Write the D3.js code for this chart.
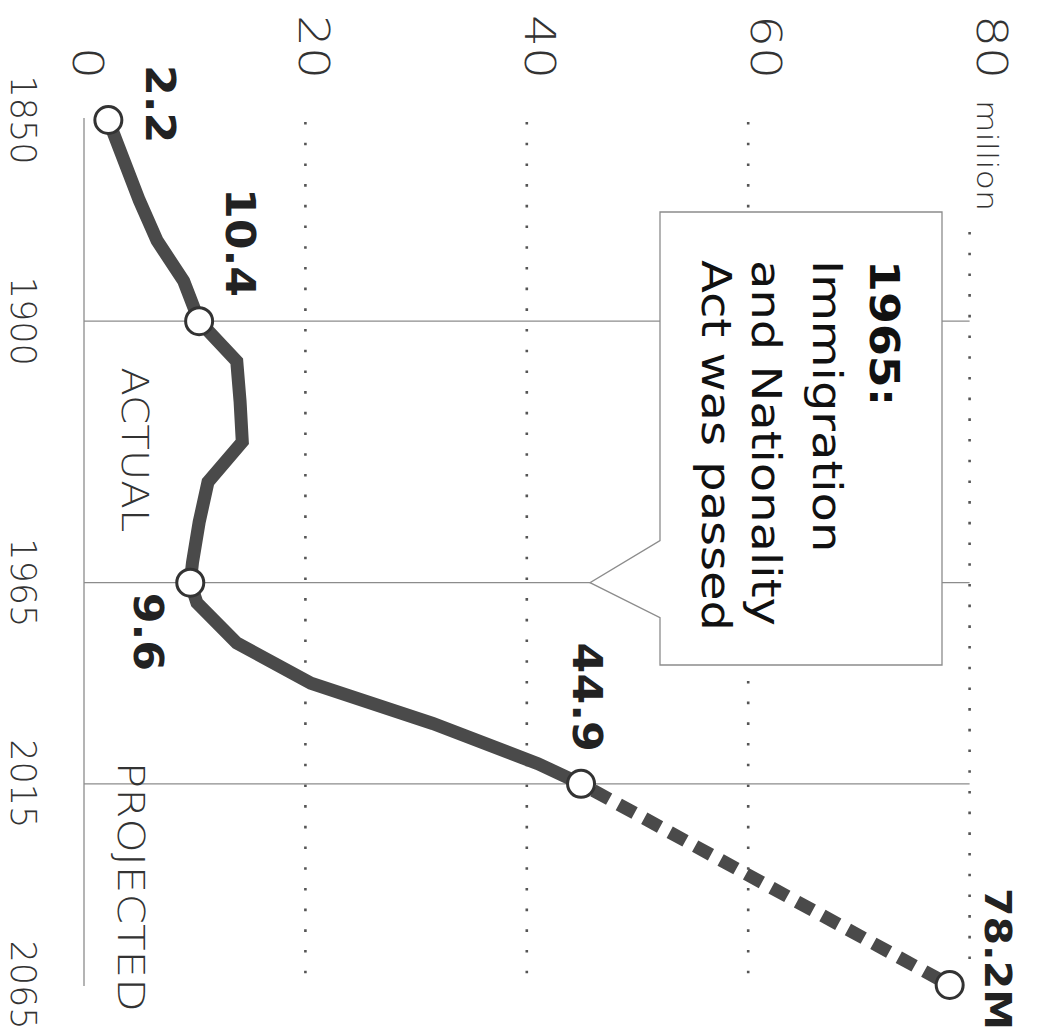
<!DOCTYPE html>
<html>
<head>
<meta charset="utf-8">
<script src="https://cdn.jsdelivr.net/npm/d3@7"></script>
<style>
  html, body { margin: 0; padding: 0; background: #fff; }
  svg { display: block; }
</style>
</head>
<body>
<svg id="chart" width="1045" height="1035"></svg>
<script>
// Foreign-born population of the U.S., millions
const actualYears  = [1850, 1860, 1870, 1880, 1890, 1900, 1910, 1920, 1930, 1940, 1950, 1960, 1965, 1970, 1980, 1990, 2000, 2010, 2015];
const actualValues = [2.2, 3.6, 5.0, 6.6, 9.0, 10.4, 13.8, 14.1, 14.3, 11.2, 10.4, 9.8, 9.6, 10.2, 13.8, 20.5, 31.5, 41.0, 44.9];
const projectedYears  = [2015, 2065];
const projectedValues = [44.9, 78.2];

const markedYears  = [1850, 1900, 1965, 2015, 2065];
const markedValues = [2.2, 10.4, 9.6, 44.9, 78.2];
const markedTexts  = ["2.2", "10.4", "9.6", "44.9", "78.2M"];

const yearTicks  = [1850, 1900, 1965, 2015, 2065];
const gridYears  = [1900, 1965, 2015];
const valueTicks = [0, 20, 40, 60, 80];
const valueTickLabels = ["0", "20", "40", "60", "80"];
const unitLabel = "million";

const phaseLabels = ["ACTUAL", "PROJECTED"];
const noteYear = 1965;
const noteLines = ["1965:", "Immigration", "and Nationality", "Act was passed"];

// ---- layout (the chart is laid out sideways: time runs down the page) ----
const FONT = "'DejaVu Sans', 'Liberation Sans', sans-serif";
const W = 1035, H = 1045;            // unrotated frame: W along time, H along value

const svg = d3.select("#chart");
const g = svg.append("g").attr("transform", `translate(${H},0) rotate(90)`);

const x = d3.scaleLinear().domain([1850, 2065]).range([120, 985]);
const y = d3.scaleLinear().domain([0, 80]).range([961, 75.4]);
// baseline position of the value tick labels
const yTickText = d3.scaleLinear().domain([0, 80]).range([972, 68]);

function label(parent, u, v, str, o) {
  return parent.append("text")
    .attr("transform", `translate(${u},${v}) scale(${o.sx || 1},1)`)
    .attr("text-anchor", o.anchor || "start")
    .attr("font-family", FONT)
    .attr("font-size", o.size)
    .attr("font-weight", o.weight || "normal")
    .attr("fill", o.fill || "#222")
    .text(str);
}

// value gridlines (dotted)
const gridStart = { 0: 118, 20: 122, 40: 122, 60: 122, 80: 232 };
g.append("g").selectAll("line")
  .data(valueTicks.filter(d => d > 0))
  .join("line")
  .attr("x1", d => gridStart[d]).attr("x2", 976)
  .attr("y1", d => y(d)).attr("y2", d => y(d))
  .attr("stroke", "#555")
  .attr("stroke-width", 2.6)
  .attr("stroke-dasharray", "2.6 18.1");

// zero baseline
g.append("line")
  .attr("x1", 118).attr("x2", 986)
  .attr("y1", y(0)).attr("y2", y(0))
  .attr("stroke", "#8c8c8c").attr("stroke-width", 1.3);

// year gridlines
g.append("g").selectAll("line")
  .data(gridYears)
  .join("line")
  .attr("x1", d => x(d)).attr("x2", d => x(d))
  .attr("y1", y(0)).attr("y2", y(80))
  .attr("stroke", "#8c8c8c").attr("stroke-width", 1.3);

// value tick labels along the top
valueTicks.forEach((t, i) => {
  label(g, 79, yTickText(t), valueTickLabels[i], { size: 42, weight: 200, anchor: "end", sx: 1.2, fill: "#333" });
});
label(g, 100, yTickText(80), unitLabel, { size: 29, weight: 200, sx: 1.15, fill: "#333" });

// year labels along the side
yearTicks.forEach(t => {
  label(g, x(t), 1034, String(t), { size: 35, weight: 200, anchor: "middle", sx: 1.0, fill: "#333" });
});

// callout box for the 1965 act
const tipU = x(noteYear);
const box = { u0: 212, u1: 665, v0: 103, v1: 385, tipV: 455 };
g.append("path")
  .attr("d", `M${box.u0},${box.v0} H${box.u1} V${box.v1} H${tipU + 35} L${tipU},${box.tipV} L${tipU - 42},${box.v1} H${box.u0} Z`)
  .attr("fill", "#fff")
  .attr("stroke", "#8c8c8c")
  .attr("stroke-width", 1.3);
const noteBaselines = [175, 232, 293, 343];
noteLines.forEach((s, i) => {
  label(g, 260, noteBaselines[i], s, {
    size: 41, weight: i === 0 ? "bold" : "normal", sx: i === 0 ? 1.12 : 1.17, fill: "#111"
  });
});

// phase labels
label(g, x(1900) + 46, 923, phaseLabels[0], { size: 38, weight: 200, sx: 1.1, fill: "#333" });
label(g, x(2015) - 22, 927, phaseLabels[1], { size: 38, weight: 200, sx: 1.15, fill: "#333" });

// actual series
const line = d3.line().x(d => x(d[0])).y(d => y(d[1]));
g.append("path")
  .datum(d3.zip(actualYears, actualValues))
  .attr("d", line)
  .attr("fill", "none")
  .attr("stroke", "#4a4a4a")
  .attr("stroke-width", 13)
  .attr("stroke-linejoin", "miter");

// projected series
g.append("path")
  .datum(d3.zip(projectedYears, projectedValues))
  .attr("d", line)
  .attr("fill", "none")
  .attr("stroke", "#4a4a4a")
  .attr("stroke-width", 13)
  .attr("stroke-dasharray", "18 11")
  .attr("stroke-dashoffset", -14);

// marked points
g.append("g").selectAll("circle")
  .data(d3.zip(markedYears, markedValues))
  .join("circle")
  .attr("cx", d => x(d[0])).attr("cy", d => y(d[1]))
  .attr("r", 13.5)
  .attr("fill", "#fff")
  .attr("stroke", "#333")
  .attr("stroke-width", 3);

// value labels beside the marked points
const markPlacement = [
  { anchor: "start", du: -55, dv: -38, size: 41 },
  { anchor: "end",   du: -24, dv: -27, size: 41 },
  { anchor: "start", du: 10,  dv: 56,  size: 41 },
  { anchor: "end",   du: -32, dv: 8,   size: 41 },
  { anchor: "end",   du: 45,  dv: -35, size: 38 }
];
markedTexts.forEach((s, i) => {
  const p = markPlacement[i];
  label(g, x(markedYears[i]) + p.du, y(markedValues[i]) + p.dv, s, {
    size: p.size, weight: "bold", anchor: p.anchor, sx: 1.08, fill: "#222"
  });
});
</script>
</body>
</html>
